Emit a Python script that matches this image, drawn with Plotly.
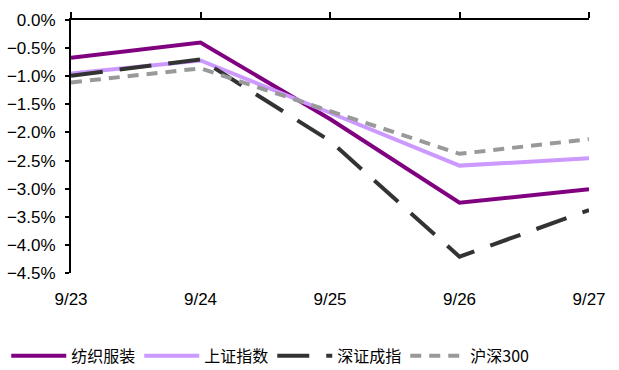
import plotly.graph_objects as go

dates = ["9/23", "9/24", "9/25", "9/26", "9/27"]
textile = [-0.67, -0.40, -1.76, -3.25, -3.01]
sse = [-0.95, -0.72, -1.65, -2.59, -2.46]
szse = [-0.99, -0.70, -2.15, -4.21, -3.38]
csi300 = [-1.11, -0.86, -1.62, -2.38, -2.12]
y_ticks = [0.0, -0.5, -1.0, -1.5, -2.0, -2.5, -3.0, -3.5, -4.0, -4.5]

xs = list(range(len(dates)))
series = [
    ("纺织服装", textile, "#800080", "solid"),
    ("上证指数", sse, "#CC99FF", "solid"),
    ("深证成指", szse, "#333333", "32px,17px"),
    ("沪深300", csi300, "#999999", "11px,8px"),
]

fig = go.Figure()
for name, vals, color, dash in series:
    fig.add_trace(go.Scatter(
        x=xs, y=[v / 100 for v in vals], name=name, mode="lines",
        line=dict(color=color, width=4, dash=dash),
    ))

# top axis carries the line and the tick marks
fig.add_trace(go.Scatter(x=xs, y=[None] * len(xs), xaxis="x2", showlegend=False,
                         hoverinfo="skip"))

tick_font = dict(family="Liberation Sans, Arial", size=17, color="#000000")

fig.update_layout(
    width=619, height=370,
    margin=dict(l=71, r=30, t=20, b=97, autoexpand=False),
    paper_bgcolor="white", plot_bgcolor="white",
    xaxis=dict(
        range=[0, 4], tickvals=xs, ticktext=dates, showline=False,
        showgrid=False, zeroline=False, ticks="", tickfont=tick_font,
        ticklabelstandoff=14,
    ),
    xaxis2=dict(
        overlaying="x", side="top", range=[0, 4], tickvals=xs,
        showticklabels=False, showline=True, linecolor="#000000", linewidth=2,
        ticks="outside", ticklen=6, tickwidth=1.5, tickcolor="#000000",
        showgrid=False, zeroline=False,
    ),
    yaxis=dict(
        range=[-0.045, 0], tickvals=[v / 100 for v in y_ticks], tickformat=".1%",
        showline=True, linecolor="#000000", linewidth=2, ticks="outside",
        ticklen=4, tickwidth=1.5, tickcolor="#000000", showgrid=False,
        zeroline=False, tickfont=tick_font, ticklabelstandoff=6,
    ),
    legend=dict(
        orientation="h", x=-0.125, xanchor="left", y=-0.26, yanchor="top",
        font=dict(family="Noto Sans CJK SC", size=16, color="#000000"),
        itemwidth=55, entrywidth=63, entrywidthmode="pixels",
        bgcolor="rgba(0,0,0,0)",
    ),
    showlegend=True,
)

fig.write_html("out.html")
